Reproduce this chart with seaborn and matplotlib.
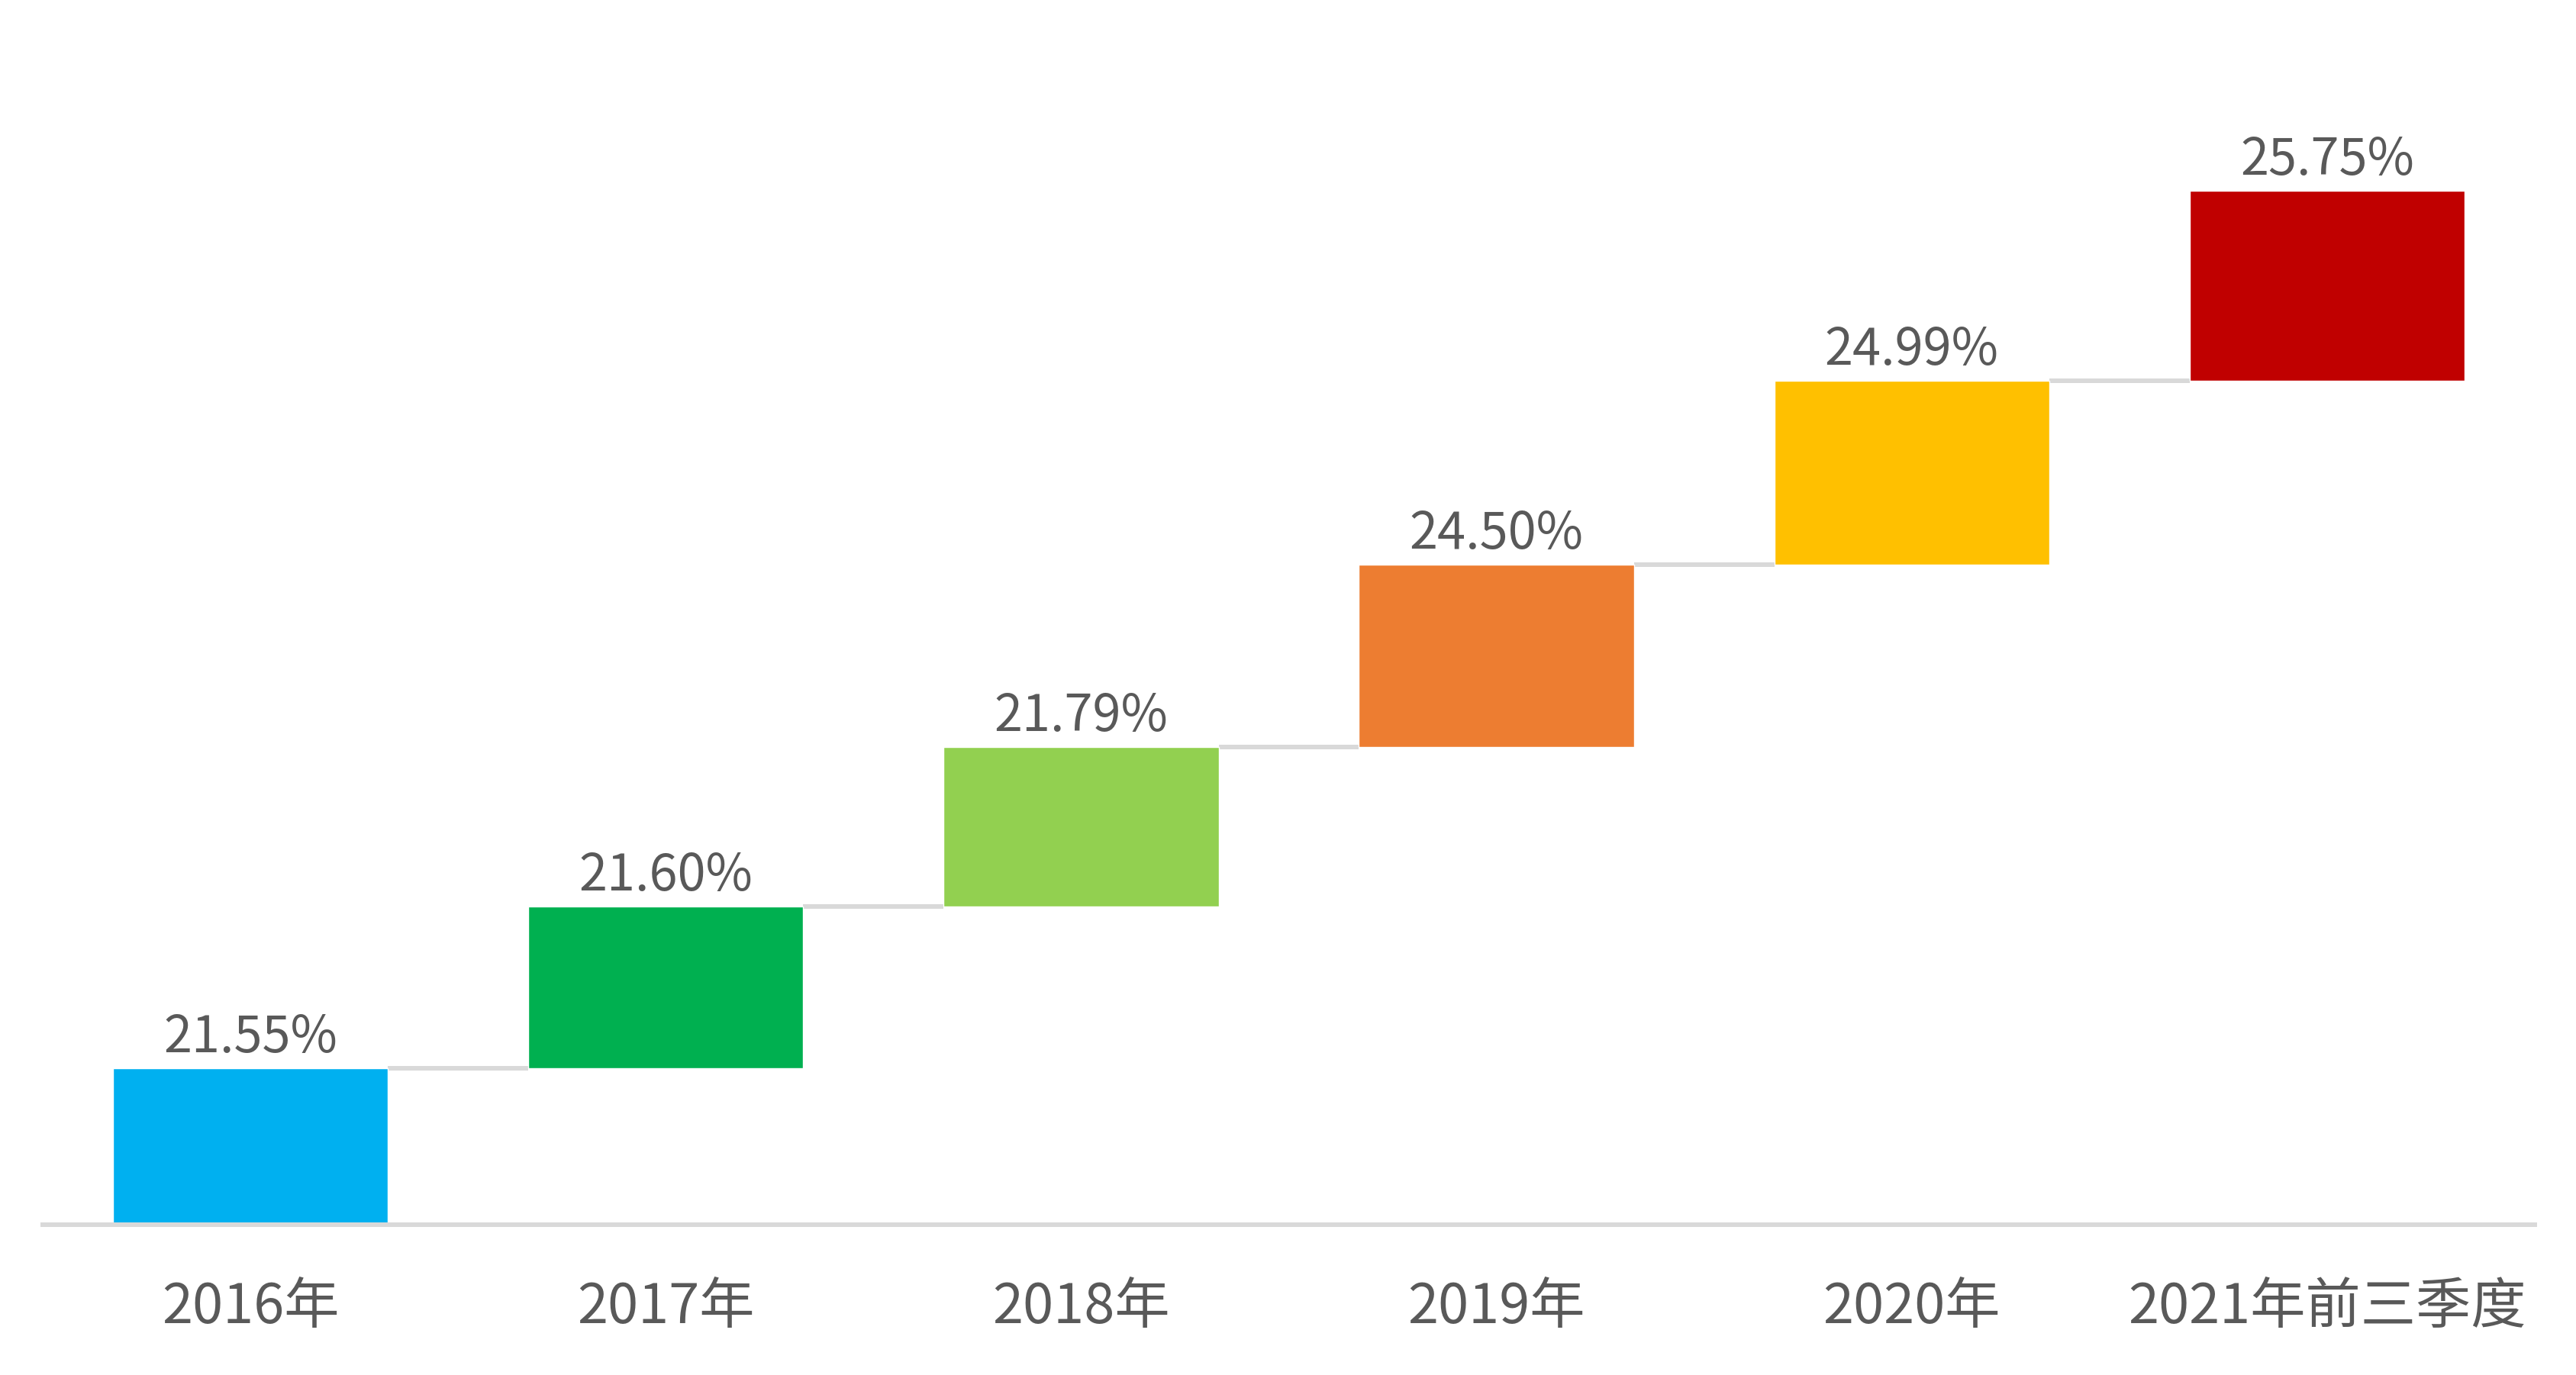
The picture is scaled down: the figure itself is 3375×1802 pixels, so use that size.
import matplotlib
matplotlib.use("Agg")
import matplotlib.pyplot as plt
import seaborn as sns
import pandas as pd

# categories and values shown on the chart
categories = ["2016年", "2017年", "2018年", "2019年", "2020年", "2021年前三季度"]
rates = [21.55, 21.60, 21.79, 24.50, 24.99, 25.75]
# vertical level of each floating bar (top edge, arbitrary step units)
step_top = [205, 417, 626, 865, 1106, 1355]
step_bottom = [0] + step_top[:-1]
colors = ["#00B0F0", "#00B050", "#92D050", "#ED7D31", "#FFC000", "#C00000"]

sns.set_style("white")
plt.rcParams["font.family"] = ["Noto Sans CJK SC", "DejaVu Sans"]

df = pd.DataFrame({"cat": categories, "top": step_top, "bottom": step_bottom})

bar_w = 0.662
fig = plt.figure(figsize=(33.75, 18.02), dpi=100)
ax = fig.add_axes([56 / 3375, 1 - 1605 / 1802, (3321 - 56) / 3375, 1605 / 1802])

sns.barplot(data=df, x="cat", y="top", hue="cat", palette=colors, legend=False,
            width=bar_w, saturation=1, ax=ax, zorder=2)

# turn the bars into floating steps
for p in ax.patches:
    i = int(round(p.get_x() + p.get_width() / 2))
    p.set_y(step_bottom[i])
    p.set_height(step_top[i] - step_bottom[i])

# connector lines between consecutive steps
w = bar_w / 2
for i in range(len(categories) - 1):
    ax.hlines(step_top[i], i + w, i + 1 - w, color="#D9D9D9", lw=4.3, zorder=1)

# value labels
for i, v in enumerate(rates):
    ax.annotate(f"{v:.2f}%", (i, step_top[i]), xytext=(0, 15), textcoords="offset points",
                ha="center", va="baseline", fontsize=48, color="#595959")

ax.set_xlim(-0.5, len(categories) - 0.5)
ax.set_ylim(0, 1605)
ax.set_xlabel("")
ax.set_ylabel("")
ax.set_yticks([])
ax.tick_params(axis="x", length=0, pad=52, labelsize=52, labelcolor="#595959")
for s in ["top", "left", "right"]:
    ax.spines[s].set_visible(False)
ax.spines["bottom"].set_color("#D9D9D9")
ax.spines["bottom"].set_linewidth(4.3)
ax.spines["bottom"].set_zorder(3)

fig.savefig("out.png", dpi=100, facecolor="white")
